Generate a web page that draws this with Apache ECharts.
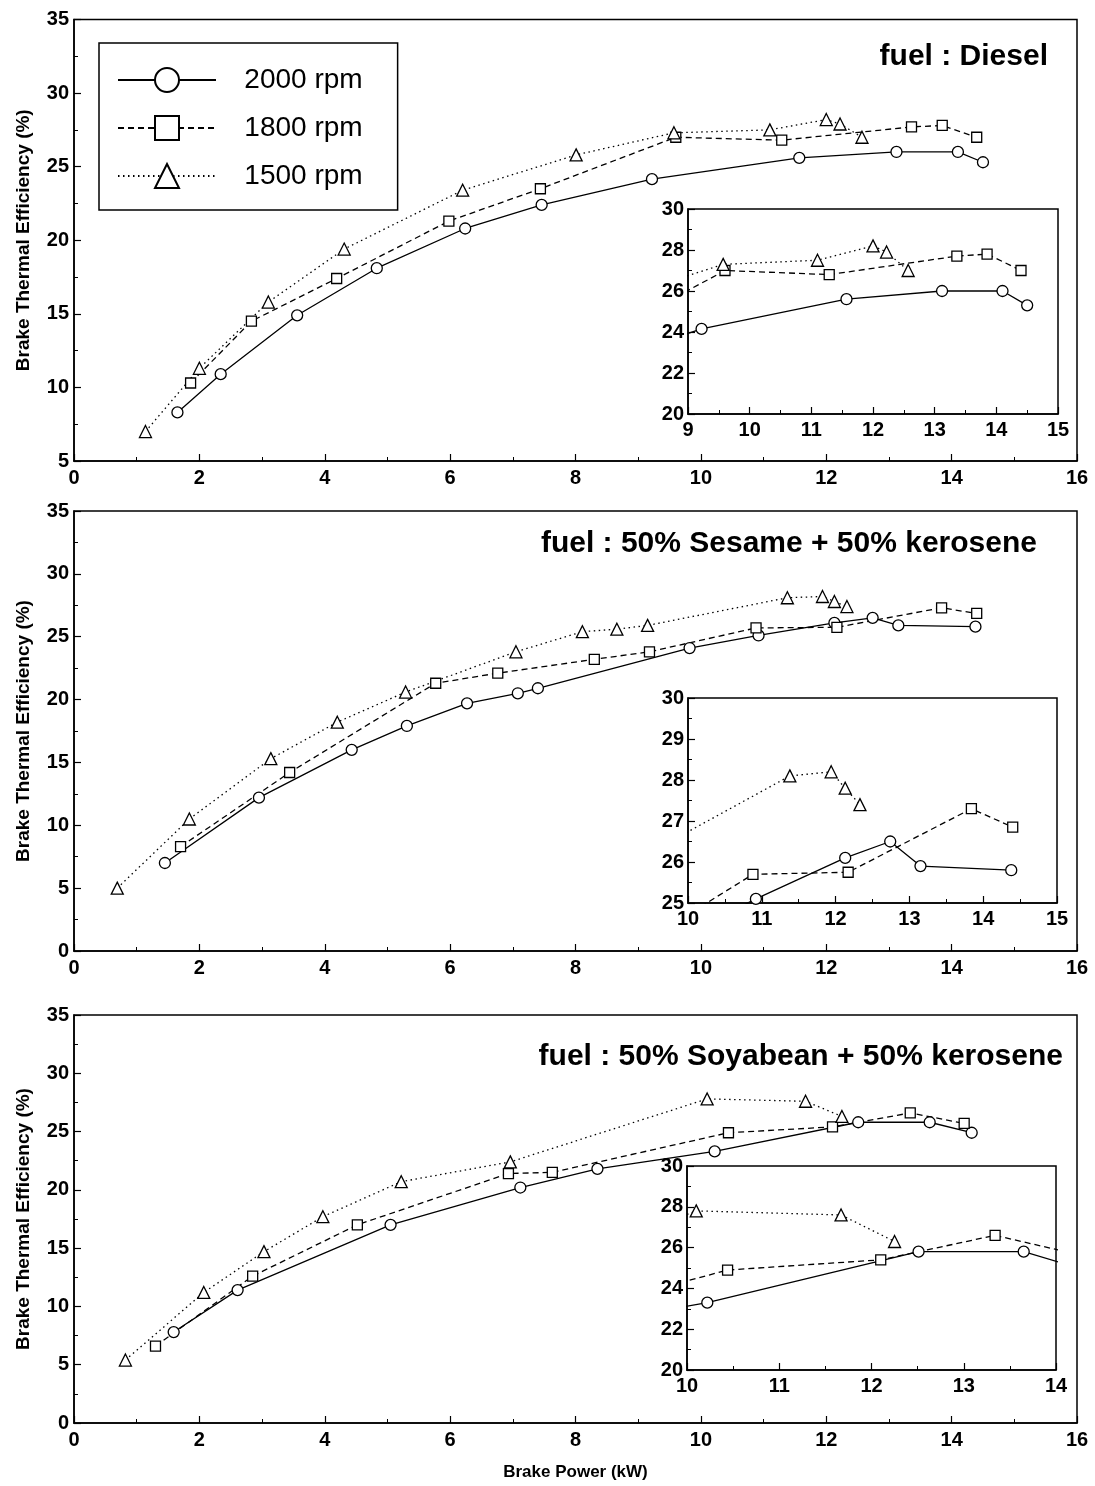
<!DOCTYPE html>
<html><head><meta charset="utf-8">
<script src="https://cdn.jsdelivr.net/npm/echarts@6/dist/echarts.min.js"></script>
<style>html,body{margin:0;padding:0;background:#fff}#c{width:1095px;height:1486px}</style>
</head><body><div id="c"></div>
<script>
// ---------- data ----------
const speeds = ['2000 rpm', '1800 rpm', '1500 rpm'];
const fuelTitles = ['fuel : Diesel', 'fuel : 50% Sesame + 50% kerosene', 'fuel : 50% Soyabean + 50% kerosene'];
const yAxisTitle = 'Brake Thermal Efficiency (%)';
const xAxisTitle = 'Brake Power (kW)';

// fuel : Diesel  [brake power kW, efficiency %]
const diesel2000 = [[1.65,8.3],[2.34,10.9],[3.56,14.9],[4.83,18.1],[6.24,20.8],[7.46,22.4],[9.22,24.15],[11.57,25.6],[13.12,26.0],[14.1,26.0],[14.5,25.3]];
const diesel1800 = [[1.86,10.3],[2.83,14.5],[4.19,17.4],[5.98,21.3],[7.44,23.5],[9.6,27.0],[11.29,26.8],[13.36,27.7],[13.85,27.8],[14.4,27.0]];
const diesel1500 = [[1.14,7.0],[2.0,11.3],[3.1,15.8],[4.31,19.4],[6.2,23.4],[8.01,25.8],[9.57,27.3],[11.1,27.5],[12.0,28.2],[12.22,27.9],[12.57,27.0]];

// fuel : 50% Sesame + 50% kerosene
const sesame2000 = [[1.45,7.0],[2.95,12.2],[4.43,16.0],[5.31,17.9],[6.27,19.7],[7.08,20.5],[7.40,20.9],[9.82,24.1],[10.92,25.1],[12.13,26.1],[12.74,26.5],[13.15,25.9],[14.38,25.8]];
const sesame1800 = [[1.70,8.3],[3.44,14.2],[5.77,21.3],[6.76,22.1],[8.30,23.2],[9.18,23.8],[10.88,25.7],[12.17,25.75],[13.84,27.3],[14.4,26.85]];
const sesame1500 = [[0.69,5.0],[1.84,10.5],[3.14,15.3],[4.20,18.2],[5.29,20.6],[7.05,23.8],[8.11,25.4],[8.66,25.6],[9.15,25.9],[11.38,28.1],[11.94,28.2],[12.13,27.8],[12.33,27.4]];

// fuel : 50% Soyabean + 50% kerosene
const soya2000 = [[1.59,7.8],[2.61,11.4],[5.05,17.0],[7.12,20.2],[8.35,21.8],[10.22,23.3],[12.51,25.8],[13.65,25.8],[14.32,24.9]];
const soya1800 = [[1.30,6.6],[2.85,12.6],[4.52,17.0],[6.93,21.4],[7.63,21.5],[10.44,24.9],[12.1,25.4],[13.34,26.6],[14.2,25.7]];
const soya1500 = [[0.82,5.4],[2.07,11.2],[3.03,14.7],[3.97,17.7],[5.22,20.7],[6.96,22.4],[10.1,27.8],[11.67,27.6],[12.25,26.3]];

// axis ranges [min, max, interval]
const mainX = [0, 16, 2];
const mainY = [[5, 35, 5], [0, 35, 5], [0, 35, 5]];
const insetX = [[9, 15, 1], [10, 15, 1], [10, 14, 1]];
const insetY = [[20, 30, 2], [25, 30, 1], [20, 30, 2]];

const panels = [
  [diesel2000, diesel1800, diesel1500],
  [sesame2000, sesame1800, sesame1500],
  [soya2000, soya1800, soya1500]
];

// ---------- layout / style ----------
const FONT = 'Liberation Sans, Arial, sans-serif';
const mainGrids = [
  {left: 74, top: 19.5, width: 1003, height: 441.5},
  {left: 74, top: 511, width: 1003, height: 440},
  {left: 74, top: 1015, width: 1003, height: 408}
];
const insetGrids = [
  {left: 688, top: 209, width: 370, height: 205},
  {left: 688, top: 698, width: 369, height: 205},
  {left: 687, top: 1166, width: 369, height: 204}
];
const titlePos = [{right: 47, top: 42}, {right: 58, top: 529}, {right: 32, top: 1042}];
const lineTypes = ['solid', [6, 4], [1.5, 3.5]];
const symbols = ['circle', 'rect', 'triangle'];
const symbolSizes = [11, 10, 12];

const grid = [];
mainGrids.forEach(g => grid.push(Object.assign({show: true, borderColor: '#000', borderWidth: 1.5, backgroundColor: 'transparent', containLabel: false}, g)));
insetGrids.forEach(g => grid.push(Object.assign({show: true, borderColor: '#000', borderWidth: 1.5, backgroundColor: '#fff', containLabel: false, z: 3}, g)));

const labelStyle = {color: '#000', fontFamily: FONT, fontWeight: 'bold', fontSize: 20};

function valueAxis(gridIndex, rng, extra) {
  return Object.assign({
    type: 'value', gridIndex: gridIndex, min: rng[0], max: rng[1], interval: rng[2],
    axisLine: {show: true, lineStyle: {color: '#000', width: 1.5}},
    axisTick: {show: true, inside: true, length: 7, lineStyle: {color: '#000', width: 1.2}},
    minorTick: {show: true, splitNumber: 2, length: 4, lineStyle: {color: '#000', width: 1}},
    splitLine: {show: false},
    axisLabel: Object.assign({margin: 7}, labelStyle)
  }, extra || {});
}

const xAxis = [], yAxis = [];
for (let p = 0; p < 3; p++) {
  xAxis.push(valueAxis(p, mainX, p === 2 ? {
    name: xAxisTitle, nameLocation: 'middle', nameGap: 41,
    nameTextStyle: {color: '#000', fontFamily: FONT, fontWeight: 'bold', fontSize: 17}
  } : {}));
  yAxis.push(valueAxis(p, mainY[p], {
    name: yAxisTitle, nameLocation: 'middle', nameGap: 41,
    nameTextStyle: {color: '#000', fontFamily: FONT, fontWeight: 'bold', fontSize: 19},
    axisLabel: Object.assign({margin: 5}, labelStyle)
  }));
}
for (let p = 0; p < 3; p++) {
  xAxis.push(valueAxis(3 + p, insetX[p], {z: 4, axisLabel: Object.assign({margin: 6}, labelStyle)}));
  yAxis.push(valueAxis(3 + p, insetY[p], {z: 4, axisLabel: Object.assign({margin: 4}, labelStyle)}));
}

const series = [];
for (let p = 0; p < 3; p++) {
  for (let s = 0; s < 3; s++) {
    const base = {
      type: 'line', name: speeds[s], data: panels[p][s],
      symbol: symbols[s], symbolSize: symbolSizes[s], showAllSymbol: true,
      lineStyle: {color: '#000', width: 1.3, type: lineTypes[s]},
      itemStyle: {color: '#fff', borderColor: '#000', borderWidth: 1.3},
      emphasis: {disabled: true}, clip: true, animation: false
    };
    series.push(Object.assign({}, base, {xAxisIndex: p, yAxisIndex: p, z: 2}));
    series.push(Object.assign({}, base, {xAxisIndex: 3 + p, yAxisIndex: 3 + p, z: 5}));
  }
}

const title = fuelTitles.map((t, i) => Object.assign({
  text: t, padding: 0,
  textStyle: {color: '#000', fontFamily: FONT, fontWeight: 'bold', fontSize: 30}
}, titlePos[i]));

const option = {
  backgroundColor: '#fff',
  animation: false,
  title: title,
  legend: {
    data: speeds, orient: 'vertical', left: 99, top: 43,
    padding: [23, 35, 20, 18], itemWidth: 98, itemHeight: 30, itemGap: 20,
    borderColor: '#000', borderWidth: 1.5, backgroundColor: '#fff',
    selectedMode: false,
    formatter: n => '   ' + n,
    textStyle: {color: '#000', fontFamily: FONT, fontSize: 28}
  },
  grid: grid, xAxis: xAxis, yAxis: yAxis, series: series
};

const chart = echarts.init(document.getElementById('c'), null, {renderer: 'canvas'});
chart.setOption(option);
</script></body></html>
